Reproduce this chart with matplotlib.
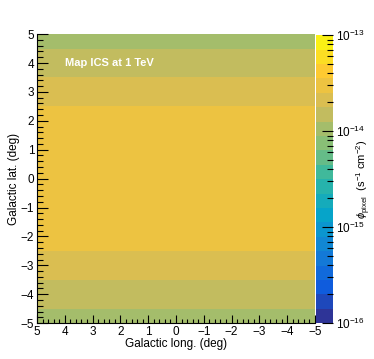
import numpy as np
import matplotlib
matplotlib.use("Agg")
import matplotlib.pyplot as plt
from matplotlib.colors import LinearSegmentedColormap, ListedColormap, LogNorm
from matplotlib.ticker import MultipleLocator, FixedLocator, NullFormatter

plt.rcParams['font.family'] = ['Liberation Sans', 'DejaVu Sans']
plt.rcParams['mathtext.fontset'] = 'custom'
plt.rcParams['mathtext.rm'] = 'Liberation Sans'
plt.rcParams['mathtext.it'] = 'Liberation Sans:italic'

# pixel centres (deg) and flux per latitude row (uniform in longitude)
glon = np.arange(-5, 6, 1)
glat = np.arange(-5, 6, 1)
row_flux = [1.0e-14, 1.5e-14, 2.2e-14, 3.0e-14, 3.0e-14, 3.0e-14,
            3.0e-14, 3.0e-14, 2.2e-14, 1.5e-14, 1.0e-14]

flux = np.array([[f] * len(glon) for f in row_flux])

# colour bar decades
decades = [1e-16, 1e-15, 1e-14, 1e-13]
decade_labels = [r'$10^{-16}$', r'$10^{-15}$', r'$10^{-14}$', r'$10^{-13}$']

# ROOT kBird palette, 20 contour levels
stops = [0.0, 0.125, 0.25, 0.375, 0.5, 0.625, 0.75, 0.875, 1.0]
red = [0.2082, 0.0592, 0.0780, 0.0232, 0.1802, 0.5301, 0.8186, 0.9956, 0.9764]
green = [0.1664, 0.3599, 0.5041, 0.6419, 0.7178, 0.7492, 0.7328, 0.7862, 0.9832]
blue = [0.5293, 0.8684, 0.8385, 0.7914, 0.6425, 0.4662, 0.3499, 0.1968, 0.0539]
bird = LinearSegmentedColormap.from_list(
    'bird', list(zip(stops, zip(red, green, blue))))
ncont = 20
cmap = ListedColormap(bird((np.arange(ncont) + 0.5) / ncont))
norm = LogNorm(vmin=decades[0], vmax=decades[-1])

fig = plt.figure(figsize=(3.74, 3.59), dpi=100)
ax = fig.add_axes([0.099, 0.100, 0.743, 0.805])
cax = fig.add_axes([0.846, 0.100, 0.045, 0.802])

l_edges = np.append(glon - 0.5, glon[-1] + 0.5)
b_edges = np.append(glat - 0.5, glat[-1] + 0.5)
mesh = ax.pcolormesh(l_edges, b_edges, flux, cmap=cmap, norm=norm)
ax.set_xlim(5, -5)
ax.set_ylim(-5, 5)

ax.xaxis.set_major_locator(MultipleLocator(1))
ax.xaxis.set_minor_locator(MultipleLocator(0.2))
ax.yaxis.set_major_locator(MultipleLocator(1))
ax.yaxis.set_minor_locator(MultipleLocator(0.2))
ax.tick_params(axis='x', which='major', direction='in', length=6, width=0.8,
               labelsize=8.5, pad=2)
ax.tick_params(axis='x', which='minor', direction='in', length=3, width=0.8)
ax.tick_params(axis='y', which='major', direction='in', length=8, width=0.8,
               labelsize=8.5, pad=2)
ax.tick_params(axis='y', which='minor', direction='in', length=4, width=0.8)
for s in ['top', 'right']:
    ax.spines[s].set_visible(False)

ax.set_xlabel('Galactic long. (deg)', fontsize=8.5, labelpad=0)
ax.set_ylabel('Galactic lat. (deg)', fontsize=8.5)
ax.yaxis.set_label_coords(-0.06, 0.5)

ax.text(0.1, 0.9, 'Map ICS at 1 TeV', transform=ax.transAxes, color='white',
        fontsize=8, fontweight='bold', va='center', ha='left')

cb = fig.colorbar(mesh, cax=cax)
cb.outline.set_linewidth(0)
minor = [d * k for d in decades[:-1] for k in range(2, 10)]
cb.set_ticks(decades, labels=decade_labels)
cax.yaxis.set_minor_locator(FixedLocator(minor))
cax.yaxis.set_minor_formatter(NullFormatter())
cax.tick_params(which='major', direction='in', length=8, width=0.8,
                labelsize=8.5, pad=2)
cax.tick_params(which='minor', direction='in', length=4, width=0.8)
cax.set_ylabel(r'$\phi_{\rm pixel}$  (s$^{-1}$ cm$^{-2}$)', fontsize=8,
               rotation=90, va='center', ha='center')
cax.yaxis.set_label_coords(2.8, 0.5)

fig.savefig('out.png', dpi=100)
